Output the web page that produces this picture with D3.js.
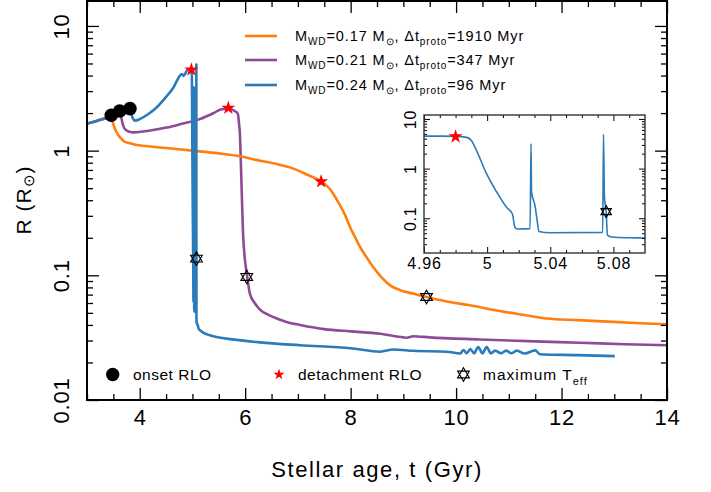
<!DOCTYPE html>
<html>
<head>
<meta charset="utf-8">
<script src="https://cdn.jsdelivr.net/npm/d3@7"></script>
<style>
  body { margin: 0; background: #fff; }
  text { font-family: "Liberation Sans", Arial, sans-serif; fill: #000; }
</style>
</head>
<body>
<div id="chart-area"></div>
<script>
//============================DATA============================
// shared track before RLO, then each model separates
var ageOrange = [3.0, 3.2, 3.46, 3.49, 3.53, 3.57, 3.63, 3.7, 3.8, 3.9, 4.2, 4.6, 5.0, 5.5, 5.9, 6.28, 6.6, 6.85, 7.17, 7.44,
    7.61, 7.7, 7.8, 7.9, 7.99, 8.09, 8.18, 8.3, 8.43, 8.6, 8.75, 8.94, 9.2, 9.44, 9.8, 10.26, 10.8, 11.3, 11.72, 12.3, 12.98, 13.5, 14.0];
var rOrange = [1.65, 1.74, 1.88, 1.68, 1.5, 1.38, 1.27, 1.19, 1.15, 1.12, 1.08, 1.04, 1.0, 0.95, 0.9, 0.83, 0.78, 0.734, 0.643, 0.565,
    0.49, 0.43, 0.363, 0.3, 0.243, 0.2, 0.168, 0.14, 0.116, 0.095, 0.083, 0.076, 0.071, 0.067, 0.062, 0.0575, 0.052, 0.048, 0.045, 0.0437, 0.0423, 0.0413, 0.0405];

var agePurple = [3.0, 3.2, 3.46, 3.62, 3.65, 3.68, 3.72, 3.8, 3.88, 4.2, 4.51, 4.8, 5.14, 5.4, 5.55, 5.68, 5.8, 5.86,
    5.88, 5.9, 5.93, 5.96, 5.99, 6.02, 6.05, 6.09, 6.18, 6.28, 6.45, 6.6, 6.8, 7.04, 7.5, 8.0, 8.56, 9.0, 9.06, 9.19, 9.5, 10.45, 11.5, 12.35, 13.2, 14.0];
var rPurple = [1.65, 1.74, 1.88, 2.04, 1.85, 1.62, 1.49, 1.42, 1.40, 1.45, 1.53, 1.64, 1.79, 2.0, 2.15, 2.17, 2.08, 1.98,
    1.7, 1.36, 0.54, 0.215, 0.14, 0.11, 0.09, 0.071, 0.06, 0.053, 0.048, 0.045, 0.042, 0.040, 0.037, 0.0355, 0.034, 0.0318, 0.0316, 0.0325, 0.0318, 0.0306, 0.0295, 0.0288, 0.028, 0.0275];

var ageBlue = [3.0, 3.2, 3.46, 3.62, 3.82, 3.86, 3.91, 4.0, 4.15, 4.32, 4.5, 4.64, 4.76, 4.8, 4.83, 4.87, 4.92, 4.96,
    4.97, 4.98, 4.987, 4.99, 4.9933, 4.9996, 5.006, 5.0123, 5.016, 5.0176, 5.019, 5.0272, 5.0278, 5.0281, 5.0303, 5.0317, 5.0328, 5.04,
    5.0732, 5.0737, 5.0743, 5.0754, 5.0762, 5.079, 5.09, 5.10, 5.12, 5.33, 5.8, 6.28, 7.04, 8.0, 8.56, 8.81, 9.19, 9.82, 10.08,
    10.14, 10.2, 10.27, 10.34, 10.42, 10.5, 10.58, 10.66, 10.74, 10.85, 10.95, 11.05, 11.15, 11.3, 11.5, 11.59, 12.3, 13.01];
var rBlue = [1.65, 1.74, 1.88, 2.05, 2.15, 1.85, 1.74, 1.79, 1.95, 2.22, 2.7, 3.21, 3.98, 4.12, 3.98, 4.2, 4.5, 4.5,
    4.5, 4.45, 4.25, 3.7, 2.3, 0.79, 0.34, 0.166, 0.122, 0.066, 0.061, 0.062, 3.2, 0.34, 0.18, 0.09, 0.054, 0.051,
    0.052, 4.9, 0.27, 0.136, 0.046, 0.042, 0.0405, 0.040, 0.037, 0.033, 0.0305, 0.029, 0.0275, 0.026, 0.0244, 0.0254, 0.0248, 0.0244, 0.0236,
    0.0252, 0.0237, 0.0256, 0.0237, 0.0266, 0.0237, 0.0266, 0.0237, 0.0249, 0.0237, 0.0249, 0.0237, 0.0249, 0.0236, 0.025, 0.0233, 0.0229, 0.0225];

var onsetAge = [3.46, 3.62, 3.815];
var onsetR = [1.92, 2.08, 2.17];
var detachAge = [4.98, 5.68, 7.44];
var detachR = [4.45, 2.2, 0.565];
var maxTeffAge = [5.0754, 6.03, 9.44];
var maxTeffR = [0.136, 0.097, 0.067];

var modelLabels = [
    { mwd: "0.17", dt: "1910" },
    { mwd: "0.21", dt: "347" },
    { mwd: "0.24", dt: "96" }
];
var colors = ["#ff7f0e", "#8c4b94", "#2b7bba"];

var xTicks = [4, 6, 8, 10, 12, 14];
var yTicks = [0.01, 0.1, 1, 10];
var insetXTicks = [4.96, 5.0, 5.04, 5.08];
var insetYTicks = [0.1, 1, 10];

//============================LAYOUT============================
var margins = { left: 87, right: 44, top: 1, bottom: 92 };
var width = 711 - margins.left - margins.right;
var height = 492 - margins.top - margins.bottom;

var svg = d3.select("#chart-area")
    .append("svg")
    .attr("width", 711)
    .attr("height", 492);

var g = svg.append("g")
    .attr("transform", "translate(" + margins.left + ", " + margins.top + ")");

var x = d3.scaleLinear().domain([3, 14]).range([0, width]);
var y = d3.scaleLog().domain([0.01, Math.pow(10, 1.2)]).range([height, 0]);

// minor tick values
function logMinor(lo, hi) {
    var out = [];
    for (var e = -3; e <= 2; e++) {
        for (var k = 2; k <= 9; k++) {
            var v = k * Math.pow(10, e);
            if (v > lo && v < hi) out.push(v);
        }
    }
    return out;
}
var xMinor = d3.range(3, 14.01, 0.5).filter(function(v){ return v % 2 !== 0; });
var yMinor = logMinor(0.01, Math.pow(10, 1.2));

function drawAxes(sel, xs, ys, w, h, xt, xm, yt, ym, big, small, xfmt, yfmt, fs, xpad, ylab) {
    sel.append("g").attr("transform", "translate(0," + h + ")")
        .call(d3.axisBottom(xs).tickValues(xt).tickSize(-big).tickSizeOuter(0).tickPadding(xpad).tickFormat(xfmt));
    sel.append("g").attr("transform", "translate(0," + h + ")")
        .call(d3.axisBottom(xs).tickValues(xm).tickSize(-small).tickSizeOuter(0).tickFormat(""));
    sel.append("g")
        .call(d3.axisTop(xs).tickValues(xt).tickSize(-big).tickSizeOuter(0).tickFormat(""));
    sel.append("g")
        .call(d3.axisTop(xs).tickValues(xm).tickSize(-small).tickSizeOuter(0).tickFormat(""));
    var ya = sel.append("g")
        .call(d3.axisLeft(ys).tickValues(yt).tickSize(-big).tickSizeOuter(0).tickFormat(yfmt));
    ya.selectAll("text")
        .attr("transform", "rotate(-90)")
        .attr("x", 0).attr("y", -ylab).attr("dy", 0)
        .attr("text-anchor", "middle");
    sel.append("g")
        .call(d3.axisLeft(ys).tickValues(ym).tickSize(-small).tickSizeOuter(0).tickFormat(""));
    sel.append("g").attr("transform", "translate(" + w + ",0)")
        .call(d3.axisRight(ys).tickValues(yt).tickSize(-big).tickSizeOuter(0).tickFormat(""));
    sel.append("g").attr("transform", "translate(" + w + ",0)")
        .call(d3.axisRight(ys).tickValues(ym).tickSize(-small).tickSizeOuter(0).tickFormat(""));
    sel.selectAll(".domain").remove();
    sel.selectAll(".tick line").attr("stroke", "#000").attr("stroke-width", 1.3);
    sel.selectAll(".tick text").attr("font-size", fs + "px").attr("font-family", "Liberation Sans, Arial, sans-serif")
        .attr("fill", "#000").attr("letter-spacing", "0.8px");
    sel.append("rect").attr("width", w).attr("height", h)
        .attr("fill", "none").attr("stroke", "#000").attr("stroke-width", 2);
}

// hexagram (two triangles)
function hexagram(r) {
    var c = 0.866 * r;
    return "M0," + (-r) + "L" + c + "," + (r / 2) + "L" + (-c) + "," + (r / 2) + "Z" +
        "M0," + r + "L" + c + "," + (-r / 2) + "L" + (-c) + "," + (-r / 2) + "Z";
}
var starPath = d3.symbol().type(d3.symbolStar).size(62)();
var starSmall = d3.symbol().type(d3.symbolStar).size(40)();

//============================MAIN PLOT============================
g.append("clipPath").attr("id", "clip-main")
    .append("rect").attr("width", width).attr("height", height);

var series = [
    { age: ageOrange, r: rOrange },
    { age: agePurple, r: rPurple },
    { age: ageBlue, r: rBlue }
];

var line = d3.line()
    .curve(d3.curveMonotoneX)
    .x(function(d) { return x(d[0]); })
    .y(function(d) { return y(d[1]); });

var plot = g.append("g").attr("clip-path", "url(#clip-main)");
// draw purple and orange first, blue on top
[1, 0, 2].forEach(function(i) {
    plot.append("path")
        .datum(d3.zip(series[i].age, series[i].r))
        .attr("fill", "none")
        .attr("stroke", colors[i])
        .attr("stroke-width", 2.6)
        .attr("stroke-linejoin", "round")
        .attr("d", line);
});

drawAxes(g, x, y, width, height, xTicks, xMinor, yTicks, yMinor, 12, 6,
    d3.format("d"), function(d) { return d >= 1 ? d3.format("d")(d) : String(d); }, 22, 9, 18);

// onset RLO dots
plot.selectAll(".onset").data(d3.zip(onsetAge, onsetR)).enter()
    .append("circle")
    .attr("cx", function(d) { return x(d[0]); })
    .attr("cy", function(d) { return y(d[1]); })
    .attr("r", 6.8)
    .attr("fill", "#000");

// detachment stars
plot.selectAll(".detach").data(d3.zip(detachAge, detachR)).enter()
    .append("path")
    .attr("d", starPath)
    .attr("transform", function(d) { return "translate(" + x(d[0]) + "," + y(d[1]) + ")"; })
    .attr("fill", "#ff0000");

// maximum Teff hexagrams
plot.selectAll(".teff").data(d3.zip(maxTeffAge, maxTeffR)).enter()
    .append("path")
    .attr("d", hexagram(6.8))
    .attr("transform", function(d) { return "translate(" + x(d[0]) + "," + y(d[1]) + ")"; })
    .attr("fill", "none")
    .attr("stroke", "#000")
    .attr("stroke-width", 1.1);

// axis labels
svg.append("text")
    .attr("x", 377).attr("y", 477)
    .attr("font-size", "22px")
    .attr("text-anchor", "middle")
    .attr("letter-spacing", "1.6px")
    .text("Stellar age, t (Gyr)");

var yl = svg.append("text")
    .attr("transform", "translate(31,200) rotate(-90)")
    .attr("font-size", "21px")
    .attr("letter-spacing", "1px")
    .attr("text-anchor", "middle");
yl.append("tspan").text("R (R");
yl.append("tspan").attr("font-size", "15px").attr("dy", 3).text("\u2299");
yl.append("tspan").attr("dy", -3).text(")");

//============================TOP LEGEND============================
var leg = svg.append("g");
modelLabels.forEach(function(m, i) {
    var ly = [36, 60, 85][i];
    leg.append("line")
        .attr("x1", 245).attr("x2", 277).attr("y1", ly).attr("y2", ly)
        .attr("stroke", colors[i]).attr("stroke-width", 2.6);
    var t = leg.append("text").attr("x", 295).attr("y", ly + 5).attr("font-size", "14.5px").attr("letter-spacing", "0.9px");
    t.append("tspan").text("M");
    t.append("tspan").attr("font-size", "10px").attr("dy", 4).text("WD");
    t.append("tspan").attr("dy", -4).text("=" + m.mwd + " M");
    t.append("tspan").attr("font-size", "10px").attr("dy", 4).text("\u2299");
    t.append("tspan").attr("dy", -4).text(", \u0394t");
    t.append("tspan").attr("font-size", "10px").attr("dy", 4).text("proto");
    t.append("tspan").attr("dy", -4).text("=" + m.dt + " Myr");
});

//============================BOTTOM LEGEND============================
var bl = svg.append("g");
bl.append("circle").attr("cx", 112.7).attr("cy", 374.5).attr("r", 6.7).attr("fill", "#000");
bl.append("text").attr("x", 133).attr("y", 380).attr("font-size", "15.5px").attr("letter-spacing", "0.5px").text("onset RLO");
bl.append("path").attr("d", starSmall).attr("transform", "translate(279,374.5)").attr("fill", "#ff0000");
bl.append("text").attr("x", 298).attr("y", 380).attr("font-size", "15.5px").attr("letter-spacing", "0.5px").text("detachment RLO");
bl.append("path").attr("d", hexagram(6.8)).attr("transform", "translate(463.5,374.5)")
    .attr("fill", "none").attr("stroke", "#000").attr("stroke-width", 1.1);
var tl = bl.append("text").attr("x", 483).attr("y", 380).attr("font-size", "15.5px").attr("letter-spacing", "1px");
tl.append("tspan").text("maximum  T");
tl.append("tspan").attr("font-size", "11px").attr("dy", 5).text("eff");

//============================INSET============================
var iw = 221, ih = 138;
var inset = svg.append("g").attr("transform", "translate(424,115)");
inset.append("rect").attr("width", iw).attr("height", ih).attr("fill", "#fff");

var xi = d3.scaleLinear().domain([4.96, 5.10]).range([0, iw]);
var yi = d3.scaleLog().domain([0.02, 12]).range([ih, 0]);

inset.append("clipPath").attr("id", "clip-inset")
    .append("rect").attr("width", iw).attr("height", ih);

var lineI = d3.line()
    .curve(d3.curveMonotoneX)
    .x(function(d) { return xi(d[0]); })
    .y(function(d) { return yi(d[1]); });

var ip = inset.append("g").attr("clip-path", "url(#clip-inset)");
ip.append("path")
    .datum(d3.zip(ageBlue, rBlue).filter(function(d) { return d[0] >= 4.95 && d[0] <= 5.12; }))
    .attr("fill", "none")
    .attr("stroke", colors[2])
    .attr("stroke-width", 1.6)
    .attr("d", lineI);

ip.append("path").attr("d", starPath)
    .attr("transform", "translate(" + xi(4.98) + "," + yi(4.4) + ")")
    .attr("fill", "#ff0000");
ip.append("path").attr("d", hexagram(6))
    .attr("transform", "translate(" + xi(maxTeffAge[0]) + "," + yi(maxTeffR[0]) + ")")
    .attr("fill", "none").attr("stroke", "#000").attr("stroke-width", 1.1);

drawAxes(inset, xi, yi, iw, ih, insetXTicks, d3.range(4.97, 5.10, 0.01).filter(function(v) {
        return insetXTicks.every(function(t) { return Math.abs(t - v) > 0.001; });
    }), insetYTicks, logMinor(0.02, 12), 6, 3,
    function(d) { return d3.format("")(+d.toFixed(2)); },
    function(d) { return d >= 1 ? d3.format("d")(d) : String(d); }, 16, 5, 8);
inset.selectAll("rect").filter(function() { return d3.select(this).attr("fill") === "none"; })
    .attr("stroke", "#333").attr("stroke-width", 1.4);
inset.selectAll(".tick line").attr("stroke-width", 1);
</script>
</body>
</html>
